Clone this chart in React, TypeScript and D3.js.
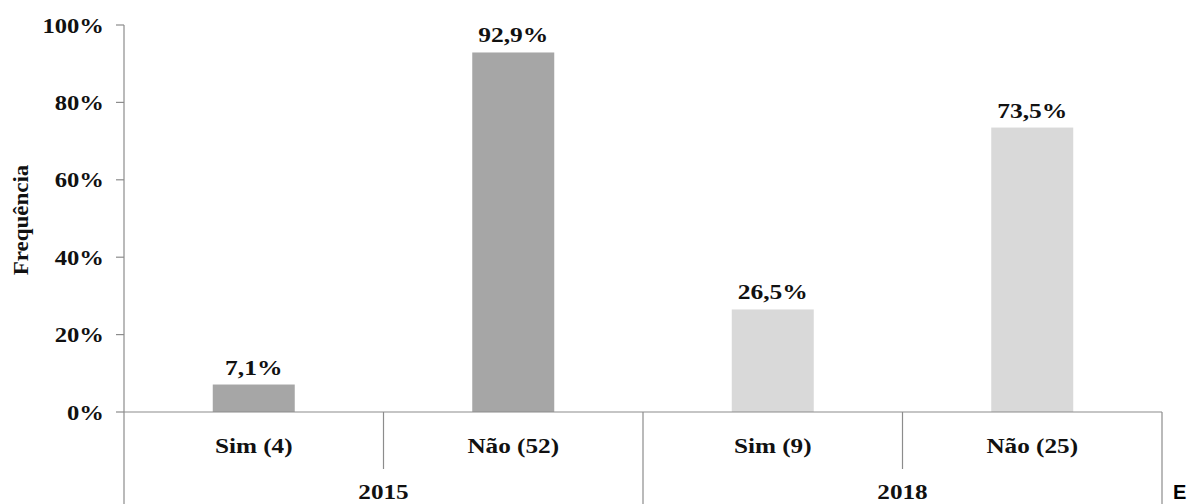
import React from "react";
import * as d3 from "d3";

const years = ["2015", "2018"];
const categories = ["Sim (4)", "Não (52)", "Sim (9)", "Não (25)"];
const categoryYear = ["2015", "2015", "2018", "2018"];
const values = [7.1, 92.9, 26.5, 73.5];
const valueLabels = ["7,1%", "92,9%", "26,5%", "73,5%"];
const yTicks = [0, 20, 40, 60, 80, 100];
const yTickLabels = ["0%", "20%", "40%", "60%", "80%", "100%"];
const yTitle = "Frequência";
const cornerMark = "E";

const W = 1195;
const H = 504;
const left = 124;
const right = 1162;
const top = 25;
const baseY = 412;
const SX = 1.16; // horizontal stretch of the labels
const FONT = "'Liberation Serif', 'Times New Roman', serif";
const axisColor = "#8c8c8c";
const barColors: Record<string, string> = { "2015": "#a6a6a6", "2018": "#d9d9d9" };

function Label({ x, y, text, size, anchor = "middle", baseline = "alphabetic", sx = SX }: any) {
  return (
    <text
      transform={`translate(${x},${y}) scale(${sx},1)`}
      textAnchor={anchor}
      dominantBaseline={baseline}
      fontFamily={FONT}
      fontWeight="bold"
      fontSize={size}
      fill="#111"
    >
      {text}
    </text>
  );
}

export default function App() {
  const x = d3.scaleBand<string>().domain(categories).range([left, right]).paddingInner(0.684).paddingOuter(0.342);
  const y = d3.scaleLinear().domain([0, 100]).range([baseY, top]);
  const step = x.step();
  const catStart = (c: string) => (x(c) as number) - (step - x.bandwidth()) / 2;

  const groupBounds = years.map((yr) => {
    const cs = categories.filter((_, i) => categoryYear[i] === yr);
    const start = catStart(cs[0]);
    const end = catStart(cs[cs.length - 1]) + step;
    return { yr, start, end };
  });

  return (
    <div style={{ position: "absolute", left: 0, top: 0 }}>
      <svg width={W} height={H} style={{ display: "block", background: "#fff" }}>
        {/* bars */}
        {categories.map((c, i) => (
          <rect
            key={c}
            x={x(c)}
            y={y(values[i])}
            width={x.bandwidth()}
            height={y(0) - y(values[i])}
            fill={barColors[categoryYear[i]]}
          />
        ))}
        {/* value labels */}
        {categories.map((c, i) => (
          <Label key={c} x={(x(c) as number) + x.bandwidth() / 2} y={y(values[i]) - 10} text={valueLabels[i]} size={22} />
        ))}

        {/* y axis */}
        <line x1={left} x2={left} y1={top} y2={H} stroke={axisColor} strokeWidth={1.2} />
        {yTicks.map((t, i) => (
          <g key={t}>
            <line x1={left - 8} x2={left} y1={y(t)} y2={y(t)} stroke={axisColor} strokeWidth={1.2} />
            <Label x={104} y={y(t)} text={yTickLabels[i]} size={22} anchor="end" baseline="central" sx={1.12} />
          </g>
        ))}
        <text
          transform={`translate(21,220) rotate(-90) scale(1.15,1.1)`}
          textAnchor="middle"
          dominantBaseline="central"
          fontFamily={FONT}
          fontWeight="bold"
          fontSize={20}
          fill="#111"
        >
          {yTitle}
        </text>

        {/* x axis */}
        <line x1={left} x2={right} y1={baseY} y2={baseY} stroke={axisColor} strokeWidth={1.2} />
        {categories.map((c, i) =>
          i > 0 && categoryYear[i] === categoryYear[i - 1] ? (
            <line key={c} x1={catStart(c)} x2={catStart(c)} y1={baseY} y2={469} stroke={axisColor} strokeWidth={1.2} />
          ) : null
        )}
        {groupBounds.map((g) => (
          <line key={g.yr} x1={g.end} x2={g.end} y1={baseY} y2={H} stroke={axisColor} strokeWidth={1.2} />
        ))}
        {categories.map((c) => (
          <Label key={c} x={(x(c) as number) + x.bandwidth() / 2} y={446} text={c} size={21} baseline="central" sx={1.2} />
        ))}
        {groupBounds.map((g) => (
          <Label key={g.yr} x={(g.start + g.end) / 2} y={492} text={g.yr} size={21} baseline="central" sx={1.2} />
        ))}

        <text x={1173} y={499} fontFamily="'Liberation Sans', Arial, sans-serif" fontWeight="bold" fontSize={20} fill="#000">
          {cornerMark}
        </text>
      </svg>
    </div>
  );
}
